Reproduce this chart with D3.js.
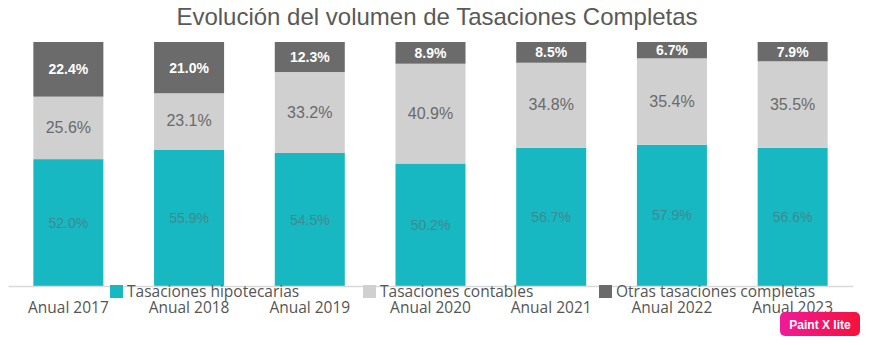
<!DOCTYPE html>
<html>
<head>
<meta charset="utf-8">
<script src="https://cdnjs.cloudflare.com/ajax/libs/d3/7.8.5/d3.min.js"></script>
<style>
  body { margin: 0; background: #fff; }
  #container { width: 870px; height: 345px; }
</style>
</head>
<body>
<div id="container"></div>
<script>
const years = ["Anual 2017", "Anual 2018", "Anual 2019", "Anual 2020", "Anual 2021", "Anual 2022", "Anual 2023"];
const seriesNames = ["Tasaciones hipotecarias", "Tasaciones contables", "Otras tasaciones completas"];
const hipotecarias = [52.0, 55.9, 54.5, 50.2, 56.7, 57.9, 56.6];
const contables = [25.6, 23.1, 33.2, 40.9, 34.8, 35.4, 35.5];
const otras = [22.4, 21.0, 12.3, 8.9, 8.5, 6.7, 7.9];

const width = 870;
const height = 345;
const colors = ["#17b8c1", "#d0d0d0", "#6b6b6b"];
const labelColors = ["#3f8a90", "#6a6a6a", "#ffffff"];

const data = years.map((y, i) => ({ year: y, s0: hipotecarias[i], s1: contables[i], s2: otras[i] }));
const stack = d3.stack().keys(["s0", "s1", "s2"])(data);

const svg = d3.select('#container')
    .append("svg")
    .attr("width", width)
    .attr("height", height)
    .style("font-family", "'Liberation Sans', Arial, sans-serif");

const x = d3.scaleBand()
    .domain(years)
    .range([8, 853])
    .paddingInner(0.42)
    .paddingOuter(0.21);

const y = d3.scaleLinear()
    .domain([0, 100])
    .range([286, 42]);

svg.append('text')
    .attr('x', 437)
    .attr('y', 25)
    .attr('text-anchor', 'middle')
    .style('font-size', '24px')
    .style('fill', '#595959')
    .text('Evolución del volumen de Tasaciones Completas');

const layers = svg.selectAll('g.layer')
    .data(stack)
    .enter()
    .append('g')
    .attr('class', 'layer')
    .attr('fill', (d, i) => colors[i]);

layers.selectAll('rect')
    .data(d => d)
    .enter()
    .append('rect')
    .attr('x', d => x(d.data.year))
    .attr('y', d => y(d[1]))
    .attr('width', x.bandwidth())
    .attr('height', d => y(d[0]) - y(d[1]));

layers.each(function (layer, li) {
    d3.select(this).selectAll('text')
        .data(layer)
        .enter()
        .append('text')
        .attr('x', d => x(d.data.year) + x.bandwidth() / 2)
        .attr('y', d => (y(d[0]) + y(d[1])) / 2 + 5)
        .attr('text-anchor', 'middle')
        .style('font-size', li === 1 ? '16px' : '14px')
        .style('font-weight', li === 2 ? 'bold' : 'normal')
        .style('fill', labelColors[li])
        .text(d => (d[1] - d[0]).toFixed(1) + '%');
});

// axis
const xAxis = svg.append('g')
    .attr('transform', 'translate(0,286)')
    .call(d3.axisBottom(x).tickSize(0).tickPadding(16));
xAxis.select('.domain').attr('stroke', '#d9d9d9').attr('stroke-width', 1.5);
xAxis.selectAll('text')
    .style('font-family', "'Open Sans', sans-serif")
    .style('font-size', '15.5px')
    .style('fill', '#555');

// legend (overlapping the axis as in the original)
const legendX = [110, 363, 599];
const legend = svg.selectAll('g.legend')
    .data(seriesNames)
    .enter()
    .append('g')
    .attr('class', 'legend')
    .attr('transform', (d, i) => `translate(${legendX[i]},285)`);
legend.append('rect')
    .attr('width', 13)
    .attr('height', 13)
    .attr('fill', (d, i) => colors[i]);
legend.append('text')
    .attr('x', 17)
    .attr('y', 12)
    .style('font-family', "'Open Sans', sans-serif")
    .style('font-size', '15.5px')
    .style('fill', '#555')
    .text(d => d);

// watermark badge
const defs = svg.append('defs');
const grad = defs.append('linearGradient').attr('id', 'pxl');
grad.append('stop').attr('offset', '0%').attr('stop-color', '#f01a9a');
grad.append('stop').attr('offset', '100%').attr('stop-color', '#f5123c');
svg.append('rect')
    .attr('x', 780).attr('y', 312)
    .attr('width', 80).attr('height', 24)
    .attr('rx', 5)
    .attr('fill', 'url(#pxl)');
svg.append('text')
    .attr('x', 820).attr('y', 328.5)
    .attr('text-anchor', 'middle')
    .style('font-size', '12px')
    .style('font-weight', 'bold')
    .style('fill', '#fff')
    .text('Paint X lite');
</script>
</body>
</html>
